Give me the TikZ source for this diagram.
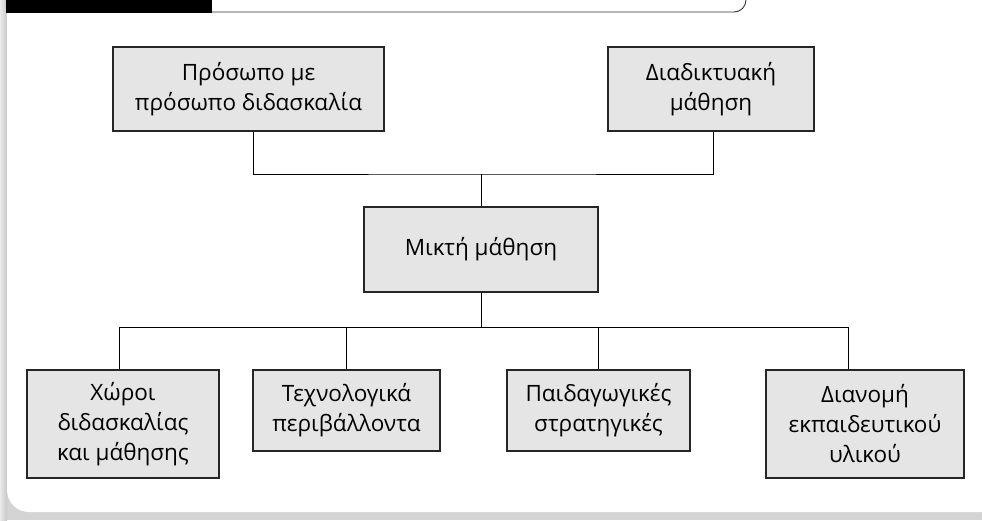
\documentclass[tikz,border=0pt]{standalone}
\usepackage{fontspec}
\setmainfont{Open Sans}
\usetikzlibrary{calc}
\definecolor{boxfill}{HTML}{E5E5E5}
\definecolor{panelgrey}{HTML}{D4D4D4}
\tikzset{
  box/.style={draw=black!85, line width=1.3pt, fill=boxfill, align=center,
    inner sep=0pt, font=\fontsize{22.5}{30}\selectfont},
  link/.style={draw=black, line width=1pt}
}
\begin{document}
\begin{tikzpicture}[x=1pt,y=-1pt]
\useasboundingbox (0,0) rectangle (982,520);
\clip (0,0) rectangle (982,520);
% panel background
\fill[panelgrey] (0,0) rectangle (982,520);
\shade[left color=black!8, right color=black!22] (0,0) rectangle (7,520);
\fill[white, rounded corners=22pt] (7,-30) rectangle (1002,512);
% header
\draw[black!80, line width=0.9pt, rounded corners=12pt] (195,12) -- (746,12) -- (746,-20);
\fill[black] (6,0) rectangle (212,12.5);
% nodes
\node[box, minimum width=271, minimum height=84] (A) at (248.5,89) {Πρόσωπο με\\πρόσωπο διδασκαλία};
\node[box, minimum width=206, minimum height=84] (B) at (711,89) {Διαδικτυακή\\μάθηση};
\node[box, minimum width=234, minimum height=85] (M) at (481,249.5) {Μικτή μάθηση};
\node[box, minimum width=192, minimum height=108] (b1) at (123,424) {Χώροι\\διδασκαλίας\\και μάθησης};
\node[box, minimum width=187, minimum height=81] (b2) at (346.5,410.5) {Τεχνολογικά\\περιβάλλοντα};
\node[box, minimum width=183, minimum height=81] (b3) at (598.5,410.5) {Παιδαγωγικές\\στρατηγικές};
\node[box, minimum width=198, minimum height=108] (b4) at (865,424) {Διανομή\\εκπαιδευτικού\\υλικού};
% junctions
\coordinate (j1) at (481,174);
\coordinate (j2) at (481,327);
% connectors
\draw[link] ($(A.south)+(4.5,0)$) |- (j1) -| ($(B.south)+(2,0)$);
\draw[link] (j1) -- (M.north);
\draw[link] (M.south) -- (j2);
\draw[link] (j2) -| ($(b1.north)+(-4,0)$);
\draw[link] (j2) -| (b2.north);
\draw[link] (j2) -| (b3.north);
\draw[link] (j2) -| ($(b4.north)+(-17,0)$);
\end{tikzpicture}
\end{document}
